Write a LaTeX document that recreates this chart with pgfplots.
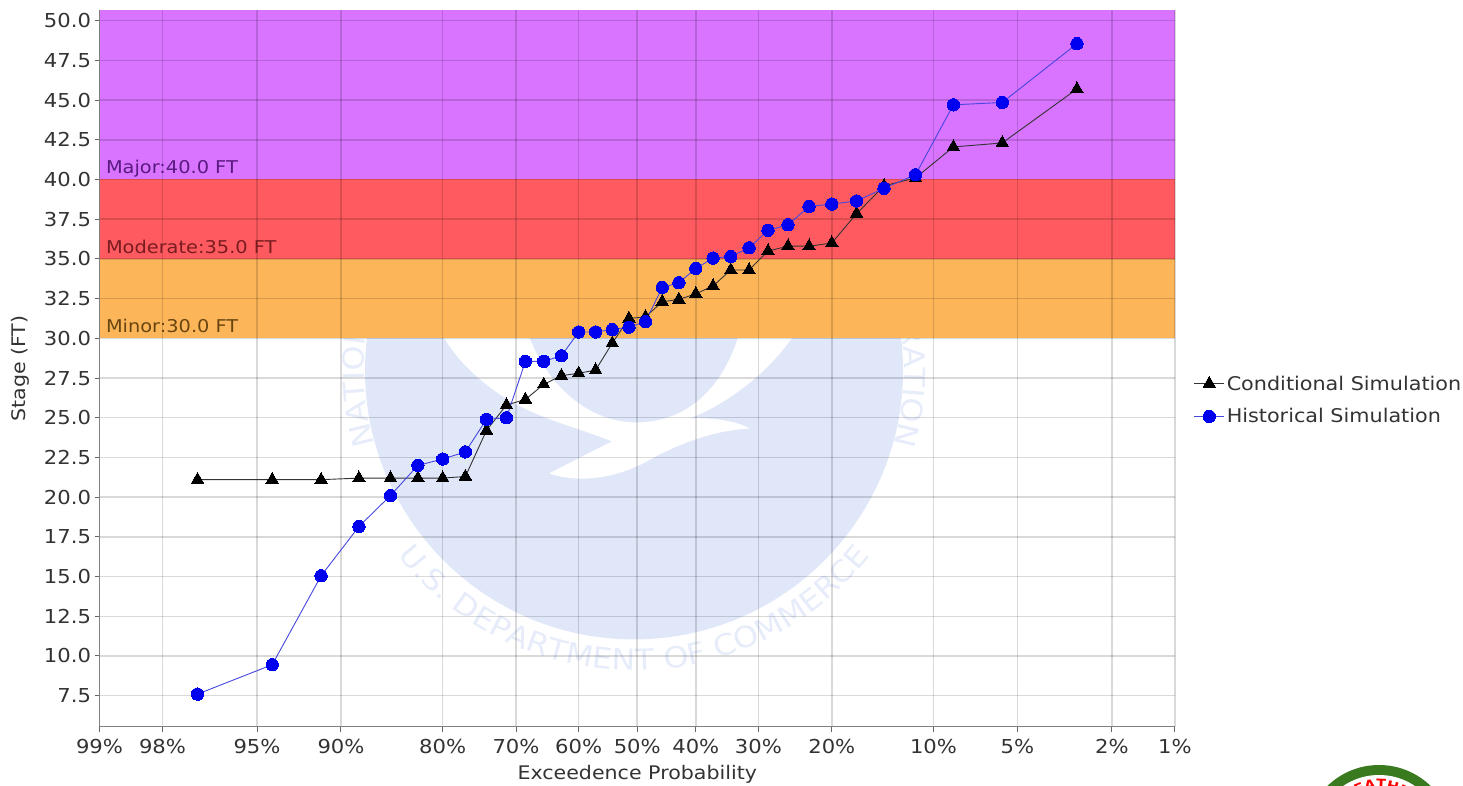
\documentclass[border=0pt]{standalone}
\usepackage{fontspec}
\setmainfont[FakeStretch=1.1]{DejaVu Sans}
\usepackage{pgfplots}
\pgfplotsset{compat=1.18}
\usepackage{pgfplotstable}
\usetikzlibrary{decorations.text}
\definecolor{wmdisc}{HTML}{DFE7F9}
\definecolor{wmtext}{HTML}{E6ECF9}
\definecolor{bandmajor}{HTML}{D874FF}
\definecolor{bandmod}{HTML}{FF5A5F}
\definecolor{bandminor}{HTML}{FDB55A}
\definecolor{inktext}{HTML}{333333}
\definecolor{sealgreen}{HTML}{3A7A1E}
% x = normal quantile of the exceedence probability (probability-paper axis)
\pgfplotstableread{
z stage
-1.9022 21.1
-1.5792 21.1
-1.3676 21.1
-1.2040 21.2
-1.0676 21.2
-0.9489 21.2
-0.8416 21.2
-0.7434 21.3
-0.6522 24.2
-0.5659 25.8
-0.4838 26.15
-0.4047 27.1
-0.3280 27.65
-0.2533 27.8
-0.1800 28.0
-0.1080 29.7
-0.0358 31.25
0.0358 31.35
0.1080 32.3
0.1800 32.45
0.2533 32.8
0.3280 33.3
0.4047 34.3
0.4838 34.3
0.5659 35.5
0.6522 35.8
0.7434 35.8
0.8416 36.0
0.9489 37.85
1.0676 39.6
1.2040 40.1
1.3676 42.05
1.5792 42.3
1.9022 45.7
}\condtable
\pgfplotstableread{
z stage
-1.9022 7.6
-1.5792 9.45
-1.3676 15.05
-1.2040 18.15
-1.0676 20.1
-0.9489 22.0
-0.8416 22.4
-0.7434 22.85
-0.6522 24.9
-0.5659 25.0
-0.4838 28.55
-0.4047 28.55
-0.3280 28.9
-0.2533 30.4
-0.1800 30.4
-0.1080 30.55
-0.0358 30.7
0.0358 31.05
0.1080 33.2
0.1800 33.5
0.2533 34.4
0.3280 35.05
0.4047 35.15
0.4838 35.7
0.5659 36.8
0.6522 37.15
0.7434 38.3
0.8416 38.45
0.9489 38.65
1.0676 39.45
1.2040 40.3
1.3676 44.7
1.5792 44.85
1.9022 48.55
}\histtable
\begin{document}
\begin{tikzpicture}
\path (0pt,0pt) rectangle (1463pt,785pt);
\begin{scope}[x=1pt,y=1pt]
\clip (0,0) rectangle (1463,785);
% seal in the lower right corner
\fill[sealgreen] (1379,-54) circle[radius=74pt];
\fill[white] (1379,-54) circle[radius=64pt];
\path[decorate,decoration={text along path,text align=center,
  text={|\fontsize{13}{13}\selectfont\bfseries\color{red}|WEATHER}}]
  ([shift={(140:50pt)}]1379pt,-54pt) arc[start angle=140,end angle=40,radius=50pt];
\end{scope}
\begin{axis}[
  set layers,
  at={(99.5pt,58.5pt)}, anchor=south west,
  width=1075.5pt, height=716pt, scale only axis,
  xmin=-2.3263, xmax=2.3263, ymin=5.56, ymax=50.64,
  axis x line*=bottom, axis y line*=left,
  axis line style={draw=black!50, line width=1.2pt, -},
  tick style={draw=black!60, line width=1pt},
  tick align=outside, major tick length=5pt,
  xtick={-2.3263,-2.0537,-1.6449,-1.2816,-0.8416,-0.5244,-0.2533,0,0.2533,0.5244,0.8416,1.2816,1.6449,2.0537,2.3263},
  xticklabels={99\%,98\%,95\%,90\%,80\%,70\%,60\%,50\%,40\%,30\%,20\%,10\%,5\%,2\%,1\%},
  ytick={7.5,10,12.5,15,17.5,20,22.5,25,27.5,30,32.5,35,37.5,40,42.5,45,47.5,50},
  /pgf/number format/assume math mode=true,
  yticklabel style={/pgf/number format/fixed,/pgf/number format/fixed zerofill,/pgf/number format/precision=1},
  ticklabel style={font=\fontsize{19.2}{20}\selectfont, text=inktext},
  xticklabel style={yshift=-4pt},
  xmajorgrids, ymajorgrids,
  grid style={draw=black, opacity=0.15, line width=1.5pt},
  xlabel={Exceedence Probability}, ylabel={Stage (FT)},
  every axis x label/.style={at={(axis description cs:0.5,0)},anchor=center,yshift=-48pt,font=\fontsize{18.7}{20}\selectfont,text=inktext},
  every axis y label/.style={at={(axis description cs:0,0.5)},anchor=center,rotate=90,yshift=79.5pt,font=\fontsize{18.7}{20}\selectfont,text=inktext},
  legend cell align=left,
  legend style={draw=none, fill=none, at={(1.0155,0.456)}, anchor=west,
    font=\fontsize{18.85}{20}\selectfont, text=inktext, row sep=13pt, inner sep=2pt},
  legend image code/.code={\draw[mark repeat=2,mark phase=2,#1] plot coordinates {(0pt,0pt) (15pt,0pt) (30pt,0pt)};},
]
\pgfplotsextra{%
\begin{pgfonlayer}{axis background}
\coordinate (C) at (axis cs:-0.014,27.98);
\fill[wmdisc] (C) circle[radius=269pt];
\fill[white] ([shift={(-194pt,40pt)}]C) .. controls ([shift={(-179pt,10pt)}]C) and ([shift={(-144pt,-25pt)}]C) .. ([shift={(-94pt,-45pt)}]C)
  .. controls ([shift={(-69pt,-55pt)}]C) and ([shift={(-44pt,-62pt)}]C) .. ([shift={(-22pt,-71pt)}]C)
  .. controls ([shift={(-44pt,-82pt)}]C) and ([shift={(-69pt,-95pt)}]C) .. ([shift={(-85pt,-103pt)}]C)
  .. controls ([shift={(-59pt,-112pt)}]C) and ([shift={(-24pt,-110pt)}]C) .. ([shift={(11pt,-92pt)}]C)
  .. controls ([shift={(46pt,-72pt)}]C) and ([shift={(81pt,-60pt)}]C) .. ([shift={(116pt,-58pt)}]C)
  .. controls ([shift={(101pt,-50pt)}]C) and ([shift={(76pt,-47pt)}]C) .. ([shift={(56pt,-48pt)}]C)
  .. controls ([shift={(101pt,-30pt)}]C) and ([shift={(141pt,5pt)}]C) .. ([shift={(163pt,40pt)}]C)
  -- ([shift={(106pt,40pt)}]C)
  .. controls ([shift={(91pt,-15pt)}]C) and ([shift={(56pt,-50pt)}]C) .. ([shift={(6pt,-52pt)}]C)
  .. controls ([shift={(-44pt,-54pt)}]C) and ([shift={(-89pt,-15pt)}]C) .. ([shift={(-107pt,40pt)}]C) -- cycle;
\path[decorate,decoration={text along path,text align=center,
  text={|\fontsize{29}{30}\selectfont\color{wmtext}|U.S. DEPARTMENT OF COMMERCE}}]
  ([shift={(205:300pt)}]C) arc[start angle=205,end angle=335,radius=300pt];
\path[decorate,decoration={text along path,
  text={|\fontsize{29}{30}\selectfont\color{wmtext}|NATIONAL}}]
  ([shift={(196:270pt)}]C) arc[start angle=196,end angle=110,radius=270pt];
\path[decorate,decoration={text along path,text align=right,
  text={|\fontsize{29}{30}\selectfont\color{wmtext}|ADMINISTRATION}}]
  ([shift={(100:270pt)}]C) arc[start angle=100,end angle=-16,radius=270pt];
\end{pgfonlayer}}
\addplot[on layer=axis background, forget plot, draw=none, fill=bandminor] coordinates {(-2.3263,30) (2.3263,30) (2.3263,35) (-2.3263,35)} --cycle;
\addplot[on layer=axis background, forget plot, draw=none, fill=bandmod] coordinates {(-2.3263,35) (2.3263,35) (2.3263,40) (-2.3263,40)} --cycle;
\addplot[on layer=axis background, forget plot, draw=none, fill=bandmajor] coordinates {(-2.3263,40) (2.3263,40) (2.3263,50.64) (-2.3263,50.64)} --cycle;
\node[anchor=base west,xshift=3pt,yshift=5.5pt,font=\fontsize{17.6}{20}\selectfont,text={rgb,255:red,90;green,26;blue,128}] at (axis cs:-2.3263,40) {Major:40.0 FT};
\node[anchor=base west,xshift=3pt,yshift=5.5pt,font=\fontsize{17.6}{20}\selectfont,text={rgb,255:red,120;green,28;blue,32}] at (axis cs:-2.3263,35) {Moderate:35.0 FT};
\node[anchor=base west,xshift=3pt,yshift=5.5pt,font=\fontsize{17.6}{20}\selectfont,text={rgb,255:red,105;green,70;blue,16}] at (axis cs:-2.3263,30) {Minor:30.0 FT};
\addplot[black!80, line width=0.9pt, mark=triangle*, mark size=7.2pt, mark options={fill=black,draw=black,solid,line width=0pt}] table[x=z,y=stage] {\condtable};
\addlegendentry{Conditional Simulation}
\addplot[color={rgb,255:red,70;green,70;blue,225}, line width=0.9pt, mark=*, mark size=6.2pt, mark options={fill={rgb,255:red,0;green,0;blue,240},draw={rgb,255:red,0;green,0;blue,240},solid,line width=0pt}] table[x=z,y=stage] {\histtable};
\addlegendentry{Historical Simulation}
\end{axis}
\pgfresetboundingbox
\path[use as bounding box] (0pt,0pt) rectangle (1463pt,785pt);
\end{tikzpicture}
\end{document}
